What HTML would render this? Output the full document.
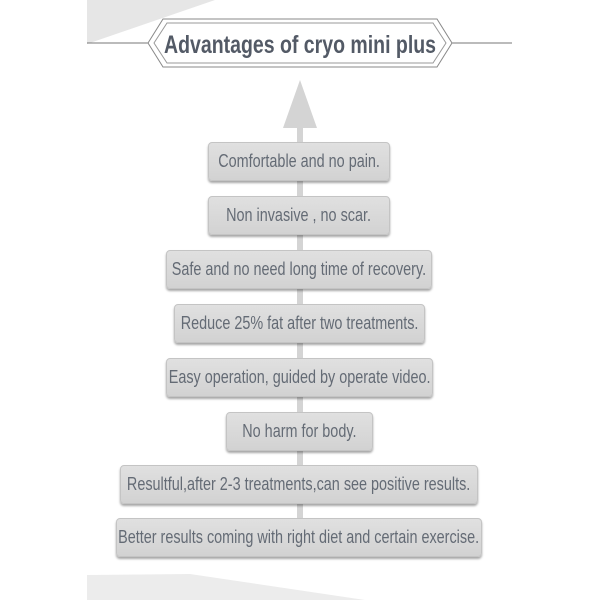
<!DOCTYPE html>
<html><head><meta charset="utf-8"><style>
body{margin:0;width:600px;height:600px;background:#fff;position:relative;overflow:hidden;font-family:"Liberation Sans Narrow","Liberation Sans",sans-serif}
.b{position:absolute;height:37px;background:linear-gradient(#e0e0e0,#d2d2d2);border:1px solid #c4c4c4;border-radius:4px;box-shadow:0 2px 2px rgba(0,0,0,.35);display:flex;align-items:center;justify-content:center;color:#646b75;font-size:18px;white-space:nowrap}
.b span{display:inline-block;transform:scaleX(.8)}
</style></head><body>
<svg width="600" height="600" style="position:absolute;left:0;top:0">
<polygon points="87,0 215,0 87,44" fill="#e6e6e6"/>
<polygon points="87,575 190,574 365,600 87,600" fill="#ececec"/>
<line x1="87" y1="43" x2="512" y2="43" stroke="#777" stroke-width="1"/>
<polygon points="163,19 437,19 452,43 437,67 163,67 148,43" fill="#fff" stroke="#888" stroke-width="1"/>
<polygon points="167,23 433,23 446,43 433,63 167,63 154,43" fill="#fff" stroke="#999" stroke-width="1"/>
<text x="300" y="53" text-anchor="middle" font-family="Liberation Sans, sans-serif" font-weight="bold" font-size="25" fill="#535a66" textLength="272" lengthAdjust="spacingAndGlyphs">Advantages of cryo mini plus</text>
<polygon points="300,80 317,128 283,128" fill="#d4d4d4"/>
<rect x="297" y="128" width="6" height="410" fill="#d4d4d4"/>
</svg>
<div class="b" style="left:208px;top:142px;width:180px"><span>Comfortable and no pain.</span></div>
<div class="b" style="left:208px;top:196px;width:180px"><span>Non invasive , no scar.</span></div>
<div class="b" style="left:166px;top:250px;width:264px"><span>Safe and no need long time of recovery.</span></div>
<div class="b" style="left:174px;top:304px;width:249px"><span>Reduce 25% fat after two treatments.</span></div>
<div class="b" style="left:166px;top:358px;width:265px"><span>Easy operation, guided by operate video.</span></div>
<div class="b" style="left:226px;top:412px;width:145px"><span>No harm for body.</span></div>
<div class="b" style="left:120px;top:465px;width:356px"><span>Resultful,after 2-3 treatments,can see positive results.</span></div>
<div class="b" style="left:116px;top:518px;width:364px"><span>Better results coming with right diet and certain exercise.</span></div>
</body></html>
